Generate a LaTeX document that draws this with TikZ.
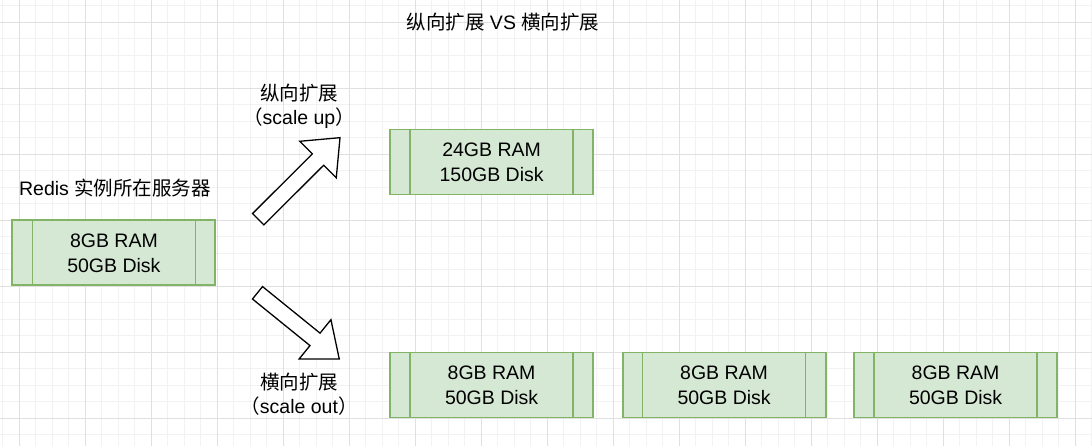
\documentclass[tikz,border=0pt]{standalone}
\usepackage{fontspec}
\setmainfont{Liberation Sans}
\newfontfamily\cjk{Noto Sans CJK SC}
\usepackage{tikz}
\usetikzlibrary{positioning,calc}
\definecolor{srvfill}{HTML}{D5E8D4}
\definecolor{srvline}{HTML}{82B366}
\definecolor{gridminor}{HTML}{F2F2F2}
\definecolor{gridmajor}{HTML}{E0E0E0}
\tikzset{
	server/.style={draw=srvline,fill=srvfill,line width=1.9pt,minimum width=203pt,minimum height=65pt,anchor=center,rectangle,
		align=center,inner sep=0pt,font=\fontsize{19.5}{25}\selectfont,
		path picture={
			\draw[srvline,line width=1.7pt] ([xshift=20pt]path picture bounding box.north west) -- ([xshift=20pt]path picture bounding box.south west);
			\draw[srvline,line width=1.7pt] ([xshift=-20pt]path picture bounding box.north east) -- ([xshift=-20pt]path picture bounding box.south east);
		},
	},
	txt/.style={align=center,inner sep=0pt,font=\fontsize{19.5}{24}\selectfont},
	bigarrow/.style={draw=black,fill=white,line width=1.3pt,line join=miter},
	gridline/.style={draw=gridminor,line width=0.8pt},
	gridbold/.style={draw=gridmajor,line width=0.8pt},
}

\begin{document}
\begin{tikzpicture}[x=1pt,y=1pt,node distance=28pt]

	% Background and grid
	\fill[white] (0,0) rectangle (1092,-446);
	\useasboundingbox (0,0) rectangle (1092,-446);
	\foreach \i in {0,...,66}
		\draw[gridline] ({2.8+16.5*\i},0) -- ({2.8+16.5*\i},-446);
	\foreach \i in {0,...,27}
		\draw[gridline] (0,{-5.8-16.5*\i}) -- (1092,{-5.8-16.5*\i});
	\foreach \i in {0,...,16}
		\draw[gridbold] ({19.3+66*\i},0) -- ({19.3+66*\i},-446);
	\foreach \i in {0,...,6}
		\draw[gridbold] (0,{-22.3-66*\i}) -- (1092,{-22.3-66*\i});

	% Title
	\node[txt] (title) at (503,-22) {{\cjk 纵向扩展} VS {\cjk 横向扩展}};

	% Original server
	\node[txt] (hostname) at (115,-188) {Redis {\cjk 实例所在服务器}};
	\node[server] (host) at (113.9,-252.8) {8GB RAM\\50GB Disk};

	% Scale up
	\node[txt] (uplabel) at (299,-106) {{\cjk 纵向扩展}\\{\cjk （}scale up{\cjk ）}};
	\begin{scope}[shift={(258.2,-219.2)},rotate=44.9]
		\draw[bigarrow] (0,-8) -- (84.5,-8) -- (84.5,-25.8) -- (115.5,0) -- (84.5,25.8) -- (84.5,8) -- (0,8) -- cycle;
	\end{scope}
	\node[server] (big) at (491.6,-162) {24GB RAM\\150GB Disk};

	% Scale out
	\begin{scope}[shift={(257.5,-292.8)},rotate=-39]
		\draw[bigarrow] (0,-8) -- (74,-8) -- (74,-25.3) -- (105.2,0) -- (74,25.3) -- (74,8) -- (0,8) -- cycle;
	\end{scope}
	\node[txt] (outlabel) at (299,-394) {{\cjk 横向扩展}\\{\cjk （}scale out{\cjk ）}};
	\node[server] (out1) at (491.6,-385) {8GB RAM\\50GB Disk};
	\node[server,right=27.6pt of out1] (out2) {8GB RAM\\50GB Disk};
	\node[server,right=26.6pt of out2] (out3) {8GB RAM\\50GB Disk};

\end{tikzpicture}
\end{document}
